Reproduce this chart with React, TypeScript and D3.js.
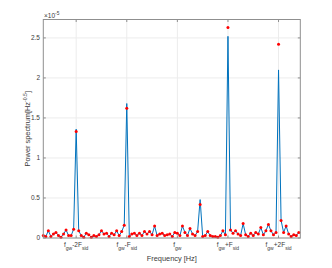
import React from 'react';
import * as d3 from 'd3';

// spectrum values in units of 1e-5 Hz^-0.5, one per frequency bin
const dotValues = [
  0.03, 0.02, 0.09, 0.02, 0.05, 0.07, 0.03, 0.01, 0.05, 0.1,
  0.03, 0.03, 0.11, 1.33, 0.09, 0.03, 0.01, 0.06, 0.04, 0.01,
  0.03, 0.02, 0.04, 0.09, 0.05, 0.06, 0.02, 0.06, 0.04, 0.09,
  0.03, 0.08, 0.16, 1.62, 0.02, 0.05, 0.06, 0.03, 0.06, 0.03,
  0.08, 0.05, 0.08, 0.04, 0.15, 0.03, 0.05, 0.06, 0.03, 0.04,
  0.05, 0.02, 0.07, 0.06, 0.03, 0.15, 0.07, 0.03, 0.12, 0.05,
  0.03, 0.08, 0.42, 0.02, 0.03, 0.08, 0.03, 0.02, 0.02, 0.01,
  0.03, 0.09, 0.04, 2.63, 0.1, 0.06, 0.09, 0.05, 0.03, 0.18,
  0.04, 0.02, 0.06, 0.03, 0.07, 0.05, 0.13, 0.04, 0.09, 0.17,
  0.09, 0.04, 0.07, 2.42, 0.22, 0.07, 0.15, 0.05, 0.02, 0.04,
  0.03, 0.07,
];

const lineValues = [
  0.03, 0.02, 0.09, 0.02, 0.05, 0.07, 0.03, 0.01, 0.05, 0.1,
  0.03, 0.03, 0.11, 1.36, 0.09, 0.03, 0.01, 0.06, 0.04, 0.01,
  0.03, 0.02, 0.04, 0.09, 0.05, 0.06, 0.02, 0.06, 0.04, 0.09,
  0.03, 0.08, 0.16, 1.68, 0.02, 0.05, 0.06, 0.03, 0.06, 0.03,
  0.08, 0.05, 0.08, 0.04, 0.15, 0.03, 0.05, 0.06, 0.03, 0.04,
  0.05, 0.02, 0.07, 0.06, 0.03, 0.15, 0.07, 0.03, 0.12, 0.05,
  0.03, 0.08, 0.48, 0.02, 0.03, 0.08, 0.03, 0.02, 0.02, 0.01,
  0.03, 0.09, 0.04, 2.52, 0.1, 0.06, 0.09, 0.05, 0.03, 0.18,
  0.04, 0.02, 0.06, 0.03, 0.07, 0.05, 0.13, 0.04, 0.09, 0.17,
  0.09, 0.04, 0.07, 2.1, 0.22, 0.07, 0.15, 0.05, 0.02, 0.04,
  0.03, 0.07,
];

const xTickBins = [13, 33, 53, 73, 93];
const xTickLabels = [
  { main: '-2F', sub: 'sid' },
  { main: '-F', sub: 'sid' },
  { main: '', sub: '' },
  { main: '+F', sub: 'sid' },
  { main: '+2F', sub: 'sid' },
];
const yTicks = [0, 0.5, 1, 1.5, 2, 2.5];

const width = 332;
const height = 268;
const plot = { left: 43.3, right: 300.3, top: 19.5, bottom: 238 };
const font = '"Liberation Sans", Arial, sans-serif';
const axisColor = '#8f8f8f';
const textColor = '#3a3a3a';

export default function App() {
  const x = d3.scaleLinear().domain([0, 101.6]).range([plot.left, plot.right]);
  const y = d3.scaleLinear().domain([0, 2.73]).range([plot.bottom, plot.top]);

  const line = d3
    .line<number>()
    .x((_, i) => x(i))
    .y((d) => y(d));

  const tickLen = 2.5;

  return (
    <svg
      width={width}
      height={height}
      style={{ position: 'absolute', left: 0, top: 0, background: '#fff' }}
      fontFamily={font}
    >
      {/* grid */}
      {yTicks.map((t) => (
        <line key={`gy-${t}`} x1={plot.left} x2={plot.right} y1={y(t)} y2={y(t)} stroke="#ececec" strokeWidth={1} />
      ))}
      {xTickBins.map((b) => (
        <line key={`gx-${b}`} x1={x(b)} x2={x(b)} y1={plot.top} y2={plot.bottom} stroke="#ececec" strokeWidth={1} />
      ))}

      {/* data */}
      <path d={line(lineValues) ?? ''} fill="none" stroke="#0072bd" strokeWidth={1} />
      {dotValues.map((v, i) => (
        <circle key={`d-${i}`} cx={x(i)} cy={y(v)} r={1.5} fill="#ff0000" />
      ))}

      {/* box */}
      <rect
        x={plot.left}
        y={plot.top}
        width={plot.right - plot.left}
        height={plot.bottom - plot.top}
        fill="none"
        stroke={axisColor}
        strokeWidth={1}
      />

      {/* ticks */}
      {yTicks.map((t) => (
        <g key={`ty-${t}`}>
          <line x1={plot.left} x2={plot.left + tickLen} y1={y(t)} y2={y(t)} stroke={axisColor} />
          <line x1={plot.right} x2={plot.right - tickLen} y1={y(t)} y2={y(t)} stroke={axisColor} />
          <text x={40} y={y(t) + 2.3} fontSize={6.5} fill={textColor} textAnchor="end">
            {t}
          </text>
        </g>
      ))}
      {xTickBins.map((b, i) => (
        <g key={`tx-${b}`}>
          <line x1={x(b)} x2={x(b)} y1={plot.bottom} y2={plot.bottom - tickLen} stroke={axisColor} />
          <line x1={x(b)} x2={x(b)} y1={plot.top} y2={plot.top + tickLen} stroke={axisColor} />
          <text x={x(b)} y={247} fontSize={6.5} fill={textColor} textAnchor="middle">
            f
            <tspan fontSize={5} dy={3}>gw</tspan>
            {xTickLabels[i].main && (
              <>
                <tspan dy={-3}>{xTickLabels[i].main}</tspan>
                <tspan fontSize={5} dy={3}>{xTickLabels[i].sub}</tspan>
              </>
            )}
          </text>
        </g>
      ))}

      {/* exponent */}
      <text x={44} y={18} fontSize={6.5} fill={textColor}>
        ×10
        <tspan fontSize={4.8} dy={-3.2}>-5</tspan>
      </text>

      {/* axis labels */}
      <text x={(plot.left + plot.right) / 2} y={260.5} fontSize={7.4} fill={textColor} textAnchor="middle">
        Frequency [Hz]
      </text>
      <text
        transform={`translate(29.5, ${(plot.top + plot.bottom) / 2}) rotate(-90)`}
        fontSize={7.4}
        fill={textColor}
        textAnchor="middle"
      >
        Power spectrum[Hz
        <tspan fontSize={5.2} dy={-3}>-0.5</tspan>
        <tspan dy={3}>]</tspan>
      </text>
    </svg>
  );
}
